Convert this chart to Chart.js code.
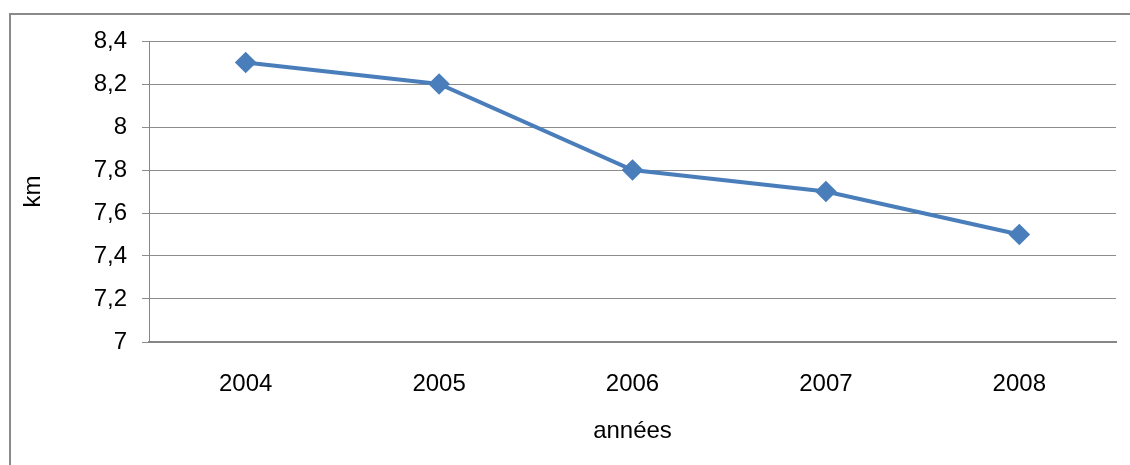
<!DOCTYPE html>
<html>
<head>
<meta charset="utf-8">
<script src="https://cdn.jsdelivr.net/npm/chart.js@4"></script>
<style>
  html, body { margin: 0; padding: 0; background: #fff; overflow: hidden; }
  #wrap { position: relative; width: 1130px; height: 465px; }
  #frame { position: absolute; left: 9px; top: 13px; width: 1200px; height: 500px; border: 2px solid #8a8a8a; }
  canvas { position: absolute; left: 0; top: 0; }
</style>
</head>
<body>
<div id="wrap">
  <div id="frame"></div>
  <canvas id="myChart" width="1130" height="465"></canvas>
</div>
<script>
const years = ['2004', '2005', '2006', '2007', '2008'];
const distances = [8.3, 8.2, 7.8, 7.7, 7.5];
const yMin = 7;
const yMax = 8.4;
const yStep = 0.2;

const fmt = v => Number(v.toFixed(1)).toString().replace('.', ',');

Chart.defaults.font.family = '"Liberation Sans", Arial, sans-serif';
Chart.defaults.font.size = 24;
Chart.defaults.color = '#000';

const ctx = document.getElementById('myChart').getContext('2d');
new Chart(ctx, {
  type: 'line',
  data: {
    labels: years,
    datasets: [{
      label: 'km',
      data: distances,
      borderColor: '#4a7ebb',
      backgroundColor: '#4a7ebb',
      borderWidth: 4,
      pointStyle: 'rectRot',
      pointRadius: 8,
      pointHoverRadius: 8,
      tension: 0,
    }],
  },
  options: {
    responsive: false,
    devicePixelRatio: 1,
    animation: false,
    layout: { padding: { left: 19, top: 41, right: 14, bottom: 19 } },
    plugins: {
      legend: { display: false },
      tooltip: { enabled: false },
    },
    scales: {
      x: {
        offset: true,
        grid: { display: false, drawTicks: false },
        border: { display: true, color: '#868686', width: 2 },
        ticks: { padding: 28, maxRotation: 0 },
        title: { display: true, text: 'années', padding: 0 },
        afterFit: scale => { scale.height = 104; },
      },
      y: {
        min: yMin,
        max: yMax,
        grid: { color: '#8c8c8c', lineWidth: 1, tickLength: 7 },
        border: { display: true, color: '#868686', width: 1 },
        ticks: { stepSize: yStep, padding: 15, callback: v => fmt(v) },
        title: { display: true, text: 'km', padding: 0 },
        afterFit: scale => { scale.width = 130; },
      },
    },
  },
});
</script>
</body>
</html>
